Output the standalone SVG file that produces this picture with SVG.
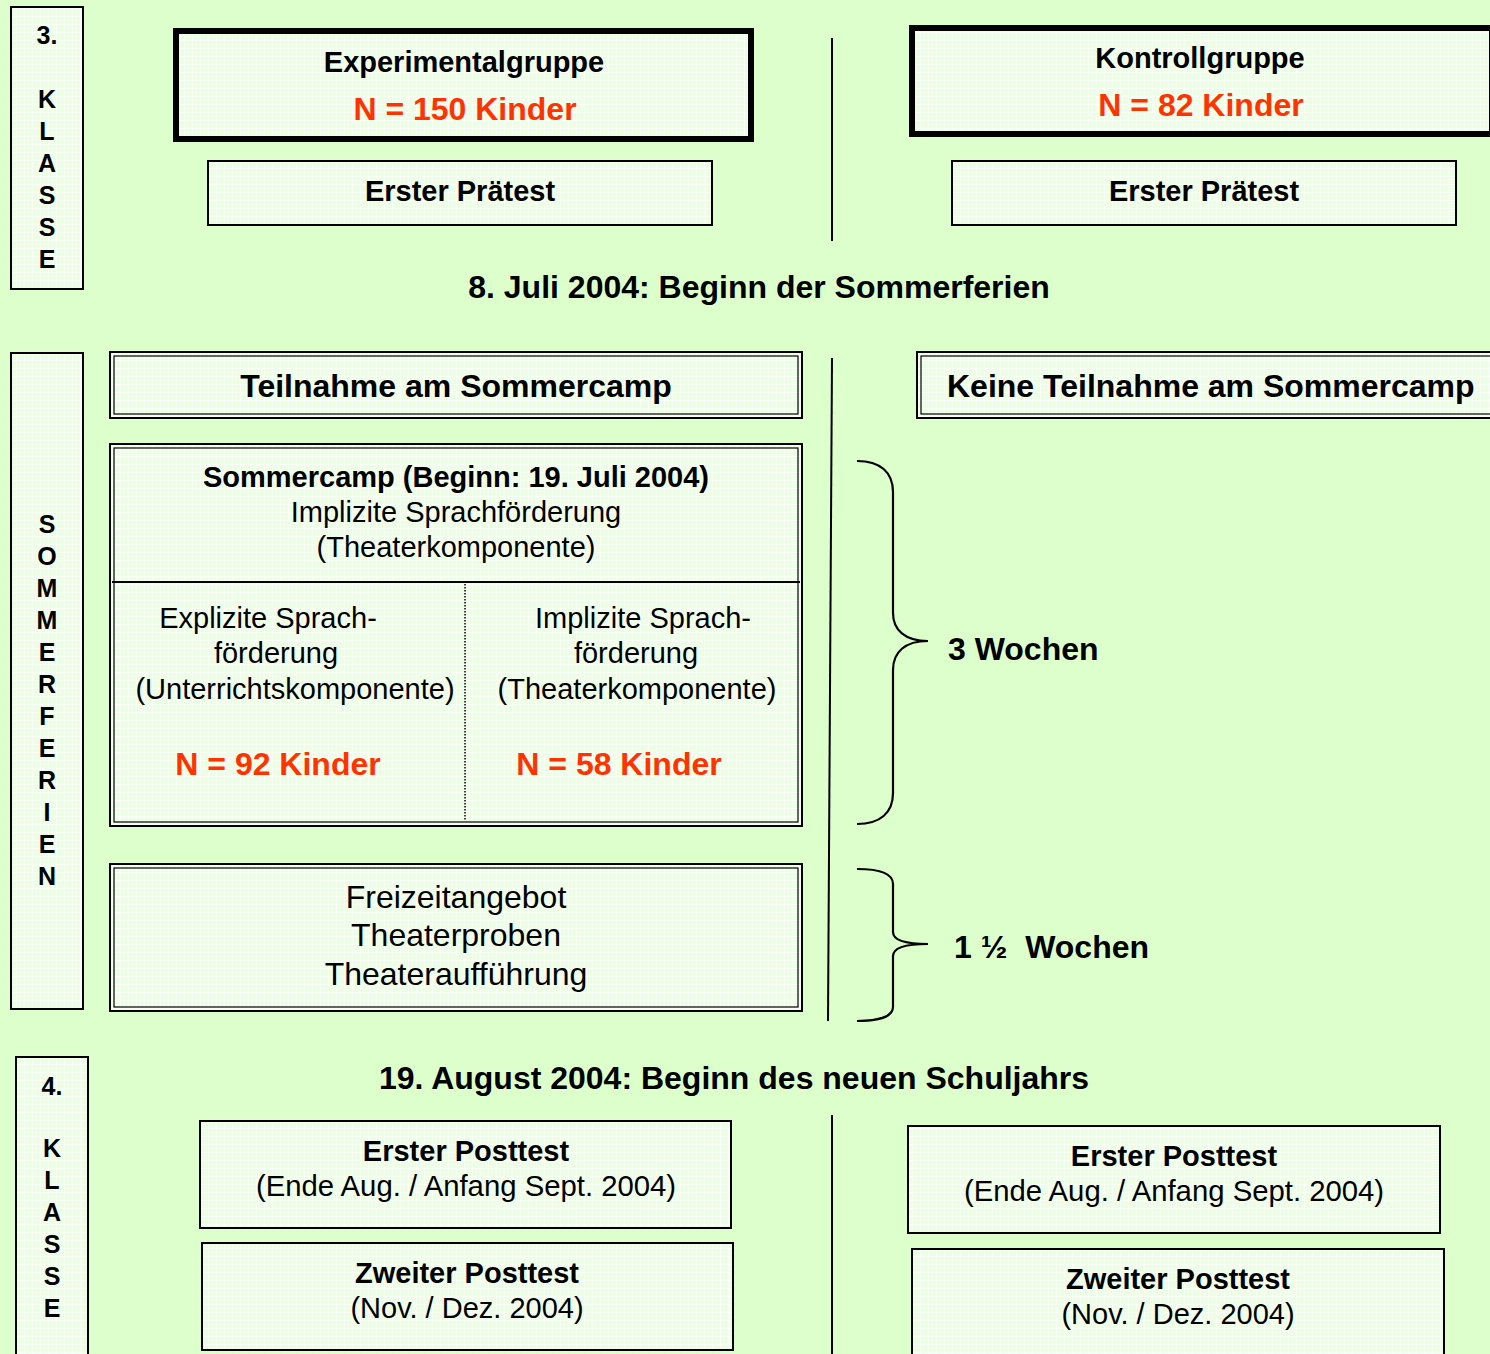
<svg xmlns="http://www.w3.org/2000/svg" width="1490" height="1354" viewBox="0 0 1490 1354">
<defs>
<pattern id="grid" width="8" height="8" patternUnits="userSpaceOnUse">
<rect width="8" height="8" fill="#eefde6"/>
<path d="M0 0.5H8M0.5 0V8" stroke="#f8fff4" stroke-width="1"/>
</pattern>
<style>
.bg{fill:#ddffcc}
.box{fill:url(#grid);stroke:#000;stroke-width:2}
.thick{fill:url(#grid);stroke:#000;stroke-width:6}
.dbl-o{fill:url(#grid);stroke:#000;stroke-width:2}
.dbl-i{fill:none;stroke:#000;stroke-width:1.2}
.ln{stroke:#000;stroke-width:2;fill:none}
.brace{stroke:#000;stroke-width:2.2;fill:none}
text{font-family:"Liberation Sans",Arial,sans-serif;fill:#000}
.b{font-weight:bold}
.c{text-anchor:middle}
.s29{font-size:29px}
.s29w{font-size:29.3px}
.s32{font-size:32px}
.s25{font-size:25px}
.red{fill:#ff3300;font-weight:bold;font-size:32px}
</style>
</defs>
<rect class="bg" x="0" y="0" width="1490" height="1354"/>

<g id="klasse3">
<rect class="box" x="11" y="7" width="72" height="282"/>
<text class="b c s25" x="47" y="44">3.</text>
<text class="b c s25" x="47" y="108">K</text>
<text class="b c s25" x="47" y="140">L</text>
<text class="b c s25" x="47" y="172">A</text>
<text class="b c s25" x="47" y="204">S</text>
<text class="b c s25" x="47" y="236">S</text>
<text class="b c s25" x="47" y="268">E</text>
</g>

<g id="experimentalgruppe">
<rect class="thick" x="176" y="31" width="575" height="108"/>
<text class="b c s29" x="464" y="72">Experimentalgruppe</text>
<text class="red c" x="465" y="120">N = 150 Kinder</text>
</g>

<g id="praetest-e">
<rect class="box" x="208" y="161" width="504" height="64"/>
<text class="b c s29" x="460" y="201">Erster Prätest</text>
</g>

<g id="kontrollgruppe">
<rect class="thick" x="912" y="28" width="580" height="106"/>
<text class="b c s29" x="1200" y="68">Kontrollgruppe</text>
<text class="red c" x="1201" y="116">N = 82 Kinder</text>
</g>

<g id="praetest-k">
<rect class="box" x="952" y="161" width="504" height="64"/>
<text class="b c s29" x="1204" y="201">Erster Prätest</text>
</g>

<g id="sommerferien-start">
<text class="b c s32" x="759" y="298">8. Juli 2004: Beginn der Sommerferien</text>
</g>

<g id="sommerferien">
<rect class="box" x="11" y="353" width="72" height="656"/>
<text class="b c s25" x="47" y="533">S</text>
<text class="b c s25" x="47" y="565">O</text>
<text class="b c s25" x="47" y="597">M</text>
<text class="b c s25" x="47" y="629">M</text>
<text class="b c s25" x="47" y="661">E</text>
<text class="b c s25" x="47" y="693">R</text>
<text class="b c s25" x="47" y="725">F</text>
<text class="b c s25" x="47" y="757">E</text>
<text class="b c s25" x="47" y="789">R</text>
<text class="b c s25" x="47" y="821">I</text>
<text class="b c s25" x="47" y="853">E</text>
<text class="b c s25" x="47" y="885">N</text>
</g>

<g id="teilnahme">
<rect class="dbl-o" x="110" y="352" width="692" height="66"/>
<rect class="dbl-i" x="114" y="356" width="684" height="58"/>
<text class="b c s32" x="456" y="397">Teilnahme am Sommercamp</text>
</g>

<g id="keine-teilnahme">
<rect class="dbl-o" x="917" y="352" width="590" height="66"/>
<rect class="dbl-i" x="921" y="356" width="582" height="58"/>
<text class="b s32" x="947" y="397">Keine Teilnahme am Sommercamp</text>
</g>

<g id="sommercamp">
<rect class="dbl-o" x="110" y="444" width="692" height="382"/>
<rect class="dbl-i" x="114" y="448" width="684" height="374"/>
<line class="ln" x1="112" y1="582" x2="800" y2="582" stroke-width="1.8"/>
<line x1="465" y1="584" x2="465" y2="821" stroke="#000" stroke-width="1.5" stroke-dasharray="1.5,1.5"/>
<text class="b c s29" x="456" y="487">Sommercamp (Beginn: 19. Juli 2004)</text>
<text class="c s29" x="456" y="522">Implizite Sprachförderung</text>
<text class="c s29" x="456" y="557">(Theaterkomponente)</text>
<text class="c s29" x="268" y="628">Explizite Sprach-</text>
<text class="c s29" x="276" y="663">förderung</text>
<text class="c s29" x="295" y="699">(Unterrichtskomponente)</text>
<text class="red c" x="278" y="775">N = 92 Kinder</text>
<text class="c s29" x="643" y="628">Implizite Sprach-</text>
<text class="c s29" x="636" y="663">förderung</text>
<text class="c s29" x="637" y="699">(Theaterkomponente)</text>
<text class="red c" x="619" y="775">N = 58 Kinder</text>
</g>

<g id="freizeit">
<rect class="dbl-o" x="110" y="864" width="692" height="147"/>
<rect class="dbl-i" x="114" y="868" width="684" height="139"/>
<text class="c s32" x="456" y="908">Freizeitangebot</text>
<text class="c s32" x="456" y="946">Theaterproben</text>
<text class="c s32" x="456" y="985">Theateraufführung</text>
</g>

<g id="dauer-3">
<path class="brace" d="M857 461 C880 461 893 472 893 492 V613 C893 630 905 641 928 641 C905 641 893 652 893 670 V793 C893 813 880 824 857 824"/>
<text class="b s32" x="948" y="660">3 Wochen</text>
</g>

<g id="dauer-1-5">
<path class="brace" d="M857 869 C880 869 893 873 893 884 V932 C893 940 905 944 928 944 C905 944 893 948 893 956 V1007 C893 1016 880 1021 857 1021"/>
<text class="b s32" x="954" y="958" xml:space="preserve" style="white-space:pre">1 ½  Wochen</text>
</g>

<g id="schuljahr-start">
<text class="b c s32" x="734" y="1089">19. August 2004: Beginn des neuen Schuljahrs</text>
</g>

<g id="klasse4">
<rect class="box" x="16" y="1057" width="72" height="310"/>
<text class="b c s25" x="52" y="1095">4.</text>
<text class="b c s25" x="52" y="1157">K</text>
<text class="b c s25" x="52" y="1189">L</text>
<text class="b c s25" x="52" y="1221">A</text>
<text class="b c s25" x="52" y="1253">S</text>
<text class="b c s25" x="52" y="1285">S</text>
<text class="b c s25" x="52" y="1317">E</text>
</g>

<g id="posttest1-e">
<rect class="box" x="200" y="1121" width="531" height="107"/>
<text class="b c s29" x="466" y="1161">Erster Posttest</text>
<text class="c s29w" x="466" y="1196">(Ende Aug. / Anfang Sept. 2004)</text>
</g>

<g id="posttest2-e">
<rect class="box" x="202" y="1243" width="531" height="107"/>
<text class="b c s29" x="467" y="1283">Zweiter Posttest</text>
<text class="c s29" x="467" y="1318">(Nov. / Dez. 2004)</text>
</g>

<g id="posttest1-k">
<rect class="box" x="908" y="1126" width="532" height="107"/>
<text class="b c s29" x="1174" y="1166">Erster Posttest</text>
<text class="c s29w" x="1174" y="1201">(Ende Aug. / Anfang Sept. 2004)</text>
</g>

<g id="posttest2-k">
<rect class="box" x="912" y="1249" width="532" height="120"/>
<text class="b c s29" x="1178" y="1289">Zweiter Posttest</text>
<text class="c s29" x="1178" y="1324">(Nov. / Dez. 2004)</text>
</g>

<g id="connectors">
<line class="ln" x1="832" y1="38" x2="832" y2="241"/>
<line class="ln" x1="832" y1="358" x2="828" y2="1021"/>
<line class="ln" x1="832" y1="1115" x2="832" y2="1354"/>
</g>
</svg>
